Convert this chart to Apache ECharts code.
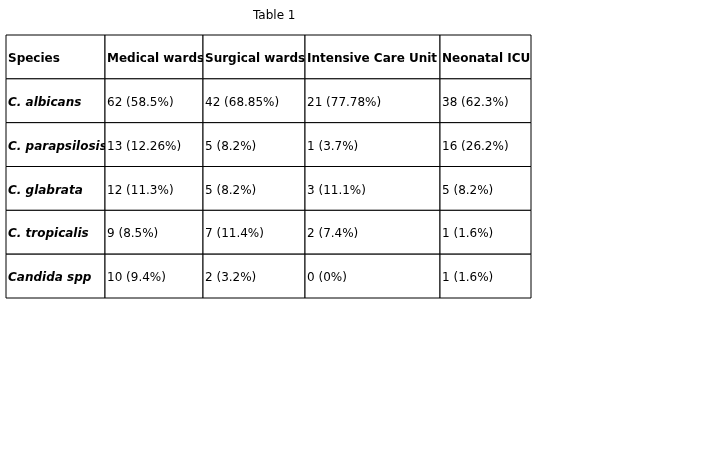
<!DOCTYPE html>
<html><head><meta charset="utf-8">
<script src="https://cdn.jsdelivr.net/npm/echarts@6/dist/echarts.min.js"></script>
<style>html,body{margin:0;padding:0;background:#fff}#c{width:720px;height:450px}</style>
</head><body><div id="c"></div>
<script>
const title = "Table 1";
const headers = ["Species", "Medical wards", "Surgical wards", "Intensive Care Unit", "Neonatal ICU"];
const species = ["C. albicans", "C. parapsilosis", "C. glabrata", "C. tropicalis", "Candida spp"];
const medical = ["62 (58.5%)", "13 (12.26%)", "12 (11.3%)", "9 (8.5%)", "10 (9.4%)"];
const surgical = ["42 (68.85%)", "5 (8.2%)", "5 (8.2%)", "7 (11.4%)", "2 (3.2%)"];
const icu = ["21 (77.78%)", "1 (3.7%)", "3 (11.1%)", "2 (7.4%)", "0 (0%)"];
const nicu = ["38 (62.3%)", "16 (26.2%)", "5 (8.2%)", "1 (1.6%)", "1 (1.6%)"];

const colEdges = [0, 99, 197, 299, 434, 525];
const cols = [species, medical, surgical, icu, nicu];
const cells = [];
headers.forEach((h, c) => cells.push([c, 0, h]));
for (let r = 0; r < species.length; r++) for (let c = 0; c < cols.length; c++) cells.push([c, r + 1, cols[c][r]]);

const chart = echarts.init(document.getElementById('c'));
chart.setOption({
  animation: false,
  title: {text: title, left: 248, top: 5,
    textStyle: {fontFamily: 'DejaVu Sans', fontSize: 12, fontWeight: 'normal', color: '#000'}},
  grid: {left: 6, top: 35, width: 525, height: 263},
  xAxis: {type: 'value', min: 0, max: 525, show: false},
  yAxis: {type: 'value', min: 0, max: 6, inverse: true, show: false},
  series: [{
    type: 'custom',
    data: cells,
    renderItem: function (params, api) {
      const c = api.value(0), r = api.value(1);
      const d = cells[params.dataIndex];
      const p0 = api.coord([colEdges[c], r]);
      const p1 = api.coord([colEdges[c + 1], r + 1]);
      const bold = r === 0 || c === 0;
      return {type: 'group', children: [
        {type: 'rect', shape: {x: p0[0], y: p0[1], width: p1[0] - p0[0], height: p1[1] - p0[1]},
          style: {fill: '#fff', stroke: '#000', lineWidth: 1}},
        {type: 'text', x: p0[0] + 2, y: (p0[1] + p1[1]) / 2 + 2,
          style: {text: d[2], fill: '#000', fontFamily: 'DejaVu Sans', fontSize: 12,
            fontWeight: bold ? 'bold' : 'normal', fontStyle: (c === 0 && r > 0) ? 'italic' : 'normal',
            verticalAlign: 'middle', align: 'left'}}
      ]};
    }
  }]
});
</script></body></html>
